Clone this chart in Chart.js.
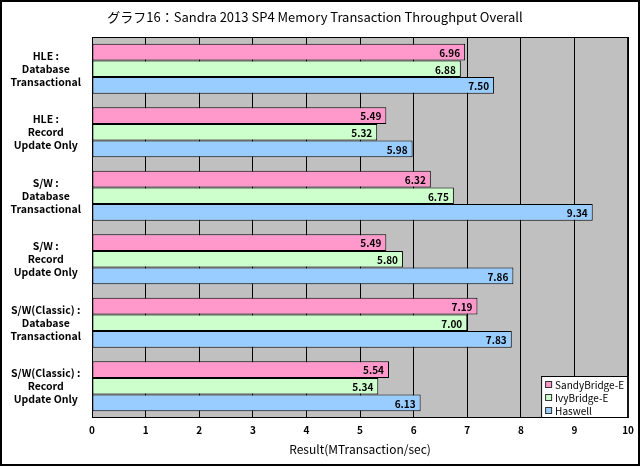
<!DOCTYPE html>
<html>
<head>
<meta charset="utf-8">
<script src="https://cdn.jsdelivr.net/npm/chart.js@4/dist/chart.umd.min.js"></script>
<style>
  body { margin: 0; background: #fff; }
  #wrap { width: 640px; height: 466px; }
</style>
</head>
<body>
<div id="wrap"><canvas id="chart_canvas" width="640" height="466"></canvas></div>
<script>
var categories = [
    ['HLE :', 'Database', 'Transactional'],
    ['HLE :', 'Record', 'Update Only'],
    ['S/W :', 'Database', 'Transactional'],
    ['S/W :', 'Record', 'Update Only'],
    ['S/W(Classic) :', 'Database', 'Transactional'],
    ['S/W(Classic) :', 'Record', 'Update Only']
];
var sandyBridge = [6.96, 5.49, 6.32, 5.49, 7.19, 5.54];
var ivyBridge = [6.88, 5.32, 6.75, 5.80, 7.00, 5.34];
var haswell = [7.50, 5.98, 9.34, 7.86, 7.83, 6.13];
var seriesNames = ['SandyBridge-E', 'IvyBridge-E', 'Haswell'];
var seriesColors = ['#ff99cc', '#ccffcc', '#99ccff'];

var labelFont = '"Noto Sans CJK JP", "DejaVu Sans", sans-serif';

var decor = {
    id: 'decor',
    beforeDraw: function (chart) {
        var a = chart.chartArea, ctx = chart.ctx;
        ctx.save();
        ctx.fillStyle = '#fff';
        ctx.fillRect(0, 0, chart.width, chart.height);
        ctx.fillStyle = '#c0c0c0';
        ctx.fillRect(a.left, a.top, a.right - a.left, a.bottom - a.top);
        ctx.restore();
    },
    afterDatasetsDraw: function (chart) {
        var ctx = chart.ctx;
        ctx.save();
        ctx.font = 'bold 10px ' + labelFont;
        ctx.fillStyle = '#000';
        ctx.textAlign = 'right';
        ctx.textBaseline = 'middle';
        chart.data.datasets.forEach(function (ds, i) {
            chart.getDatasetMeta(i).data.forEach(function (bar, j) {
                ctx.fillText(ds.data[j].toFixed(2), bar.x - 5, bar.y + 1);
            });
        });
        ctx.restore();
    },
    afterDraw: function (chart) {
        var a = chart.chartArea, ctx = chart.ctx;
        ctx.save();
        // plot frame
        ctx.strokeStyle = '#000';
        ctx.lineWidth = 1;
        ctx.strokeRect(a.left + 0.5, a.top + 0.5, a.right - a.left - 1, a.bottom - a.top - 1);
        // legend box
        var lx = a.right - 87, ly = a.bottom - 42, lw = 87, lh = 42;
        ctx.fillStyle = '#fff';
        ctx.fillRect(lx, ly, lw, lh);
        ctx.strokeRect(lx + 0.5, ly + 0.5, lw - 1, lh - 1);
        ctx.font = '10px ' + labelFont;
        ctx.textAlign = 'left';
        ctx.textBaseline = 'middle';
        chart.data.datasets.forEach(function (ds, i) {
            var y = ly + 8 + i * 13;
            ctx.fillStyle = ds.backgroundColor;
            ctx.fillRect(lx + 4, y - 3, 7, 7);
            ctx.strokeStyle = '#333';
            ctx.strokeRect(lx + 4.5, y - 2.5, 6, 6);
            ctx.fillStyle = '#000';
            ctx.fillText(ds.label, lx + 14, y + 1);
        });
        // outer frame
        ctx.lineWidth = 2;
        ctx.strokeStyle = '#000';
        ctx.strokeRect(1, 1, chart.width - 2, chart.height - 2);
        ctx.restore();
    }
};

var chart = new Chart(document.getElementById('chart_canvas'), {
    type: 'bar',
    data: {
        labels: categories,
        datasets: [
            { label: seriesNames[0], data: sandyBridge, backgroundColor: seriesColors[0] },
            { label: seriesNames[1], data: ivyBridge, backgroundColor: seriesColors[1] },
            { label: seriesNames[2], data: haswell, backgroundColor: seriesColors[2] }
        ]
    },
    options: {
        indexAxis: 'y',
        responsive: false,
        animation: false,
        layout: { padding: { top: 0, right: 10, bottom: 0, left: 0 } },
        datasets: {
            bar: {
                borderColor: '#000',
                borderWidth: 1,
                borderSkipped: false,
                barPercentage: 1.0,
                categoryPercentage: 0.79
            }
        },
        scales: {
            x: {
                min: 0,
                max: 10,
                ticks: {
                    stepSize: 1,
                    color: '#000',
                    font: { family: labelFont, size: 10, weight: 'bold' },
                    padding: 6
                },
                grid: { color: '#000', lineWidth: 1, tickLength: 0, drawTicks: false },
                border: { display: false },
                title: {
                    display: true,
                    text: 'Result(MTransaction/sec)',
                    color: '#000',
                    font: { family: labelFont, size: 12, weight: 'normal' },
                    padding: { top: 2, bottom: 9 }
                },
                afterFit: function (scale) { scale.height = 48; }
            },
            y: {
                ticks: {
                    color: '#000',
                    crossAlign: 'center',
                    font: { family: labelFont, size: 10.5, weight: 'bold', lineHeight: 1.25 }
                },
                grid: { display: false },
                border: { display: false },
                afterFit: function (scale) { scale.width = 92; }
            }
        },
        plugins: {
            title: {
                display: true,
                text: 'グラフ16：Sandra 2013 SP4 Memory Transaction Throughput Overall',
                color: '#000',
                font: { family: labelFont, size: 13, weight: 'normal' },
                padding: { top: 9, bottom: 12.4 }
            },
            legend: { display: false },
            tooltip: { enabled: false }
        }
    },
    plugins: [decor]
});
</script>
</body>
</html>
